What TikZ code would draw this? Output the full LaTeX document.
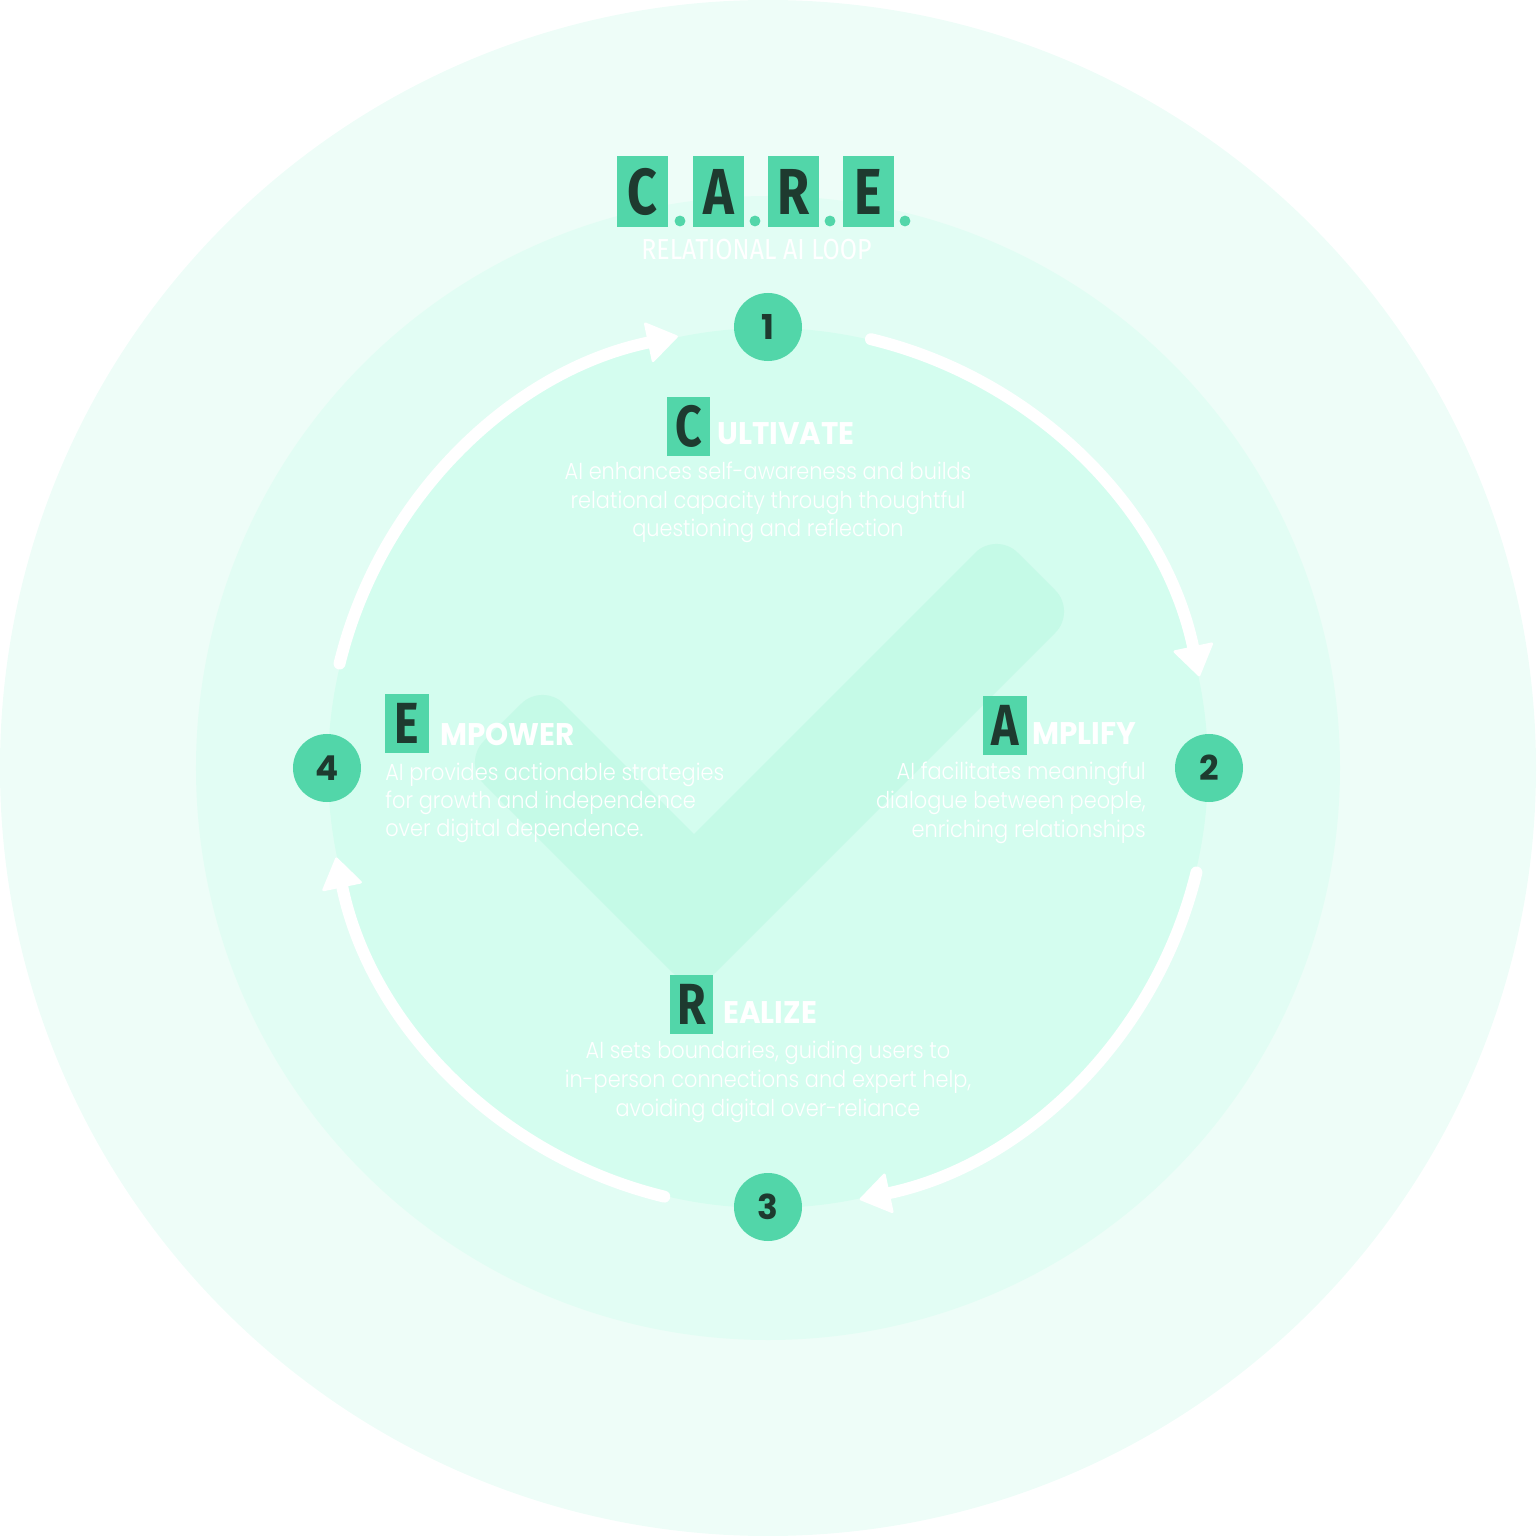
\documentclass[tikz,border=0pt]{standalone}
\usepackage{fontspec}
\usetikzlibrary{arrows.meta}
\setmainfont{Poppins}
\IfFontExistsTF{Poppins Light}{\newfontfamily\bodyfont{Poppins Light}[FakeStretch=0.9]}{\newfontfamily\bodyfont{Poppins}[FakeStretch=0.9]}
\newfontfamily\headfont{Poppins}[FakeStretch=0.94]
\newfontfamily\letterfont{Fira Sans}[FakeStretch=0.8]
\newfontfamily\subfont{Fira Sans}[FakeStretch=0.86]
\definecolor{outerc}{HTML}{EEFDF8}
\definecolor{midc}{HTML}{E2FDF4}
\definecolor{innerc}{HTML}{D4FDEF}
\definecolor{checkc}{HTML}{C5FAE7}
\definecolor{cgreen}{HTML}{52D6A9}
\definecolor{cdark}{HTML}{1E3A2F}
\tikzset{
  numc/.style={circle, fill=cgreen, inner sep=0pt, minimum size=38.7pt, text=cdark,
    font=\fontsize{19.5pt}{19.5pt}\selectfont\bfseries},
  tbox/.style={rectangle, fill=cgreen, inner sep=0pt, minimum width=29pt, minimum height=40.4pt,
    text=cdark, font=\letterfont\fontsize{37pt}{37pt}\selectfont\bfseries},
  hbox/.style={rectangle, fill=cgreen, inner sep=0pt, minimum width=24.5pt, minimum height=33.6pt,
    text=cdark, font=\letterfont\fontsize{33pt}{33pt}\selectfont\bfseries},
  dotc/.style={circle, fill=cgreen, inner sep=0pt, minimum size=6.2pt},
  hword/.style={anchor=base west, inner sep=0pt, text=white,
    font=\headfont\fontsize{17.8pt}{17.8pt}\selectfont\bfseries},
  bodyc/.style={inner sep=0pt, text=white, font=\bodyfont\fontsize{13.2pt}{16pt}\selectfont},
  flow/.style={draw=white, line width=6.8pt, line cap=round,
    -{Triangle[length=18pt,width=24pt,round,line width=1.5pt]}},
}
\begin{document}
\begin{tikzpicture}[x=0.2mm,y=0.2mm]
\useasboundingbox (-768,-768) rectangle (768,768);
\coordinate (ctr) at (0,0);
% background discs
\fill[outerc] (ctr) circle[radius=768];
\fill[midc] (ctr) circle[radius=572];
\fill[innerc] (ctr) circle[radius=440];
% big check mark
\fill[checkc] (-74,-66) [rounded corners=17pt] -- (228.5,236.5) -- (308.5,156.5) -- (-74,-226)
  -- (-305.5,5.5) -- (-225.5,85.5) [sharp corners] -- cycle;
% loop arrows
\draw[flow] ([shift={(76.5:441)}]ctr) arc[start angle=76.5, end angle=12, radius=441];
\draw[flow] ([shift={(-13.7:441)}]ctr) arc[start angle=-13.7, end angle=-78, radius=441];
\draw[flow] ([shift={(-103.6:441)}]ctr) arc[start angle=-103.6, end angle=-168.3, radius=441];
\draw[flow] ([shift={(166.3:441)}]ctr) arc[start angle=166.3, end angle=101.8, radius=441];
% step numbers
\node[numc] (n1) at (0,441) {1};
\node[numc] (n2) at (441,0) {2};
\node[numc] (n3) at (0,-439) {3};
\node[numc] (n4) at (-441,0) {4};
% title
\node[tbox] (tc) at (-125.5,576.5) {C};
\node[tbox] (ta) at (-49.5,576.5) {A};
\node[tbox] (tr) at (25.5,576.5) {R};
\node[tbox] (te) at (100.5,576.5) {E};
\node[dotc] (d1) at (-88,547) {};
\node[dotc] (d2) at (-13,547) {};
\node[dotc] (d3) at (62,547) {};
\node[dotc] (d4) at (137,547) {};
\node[anchor=base, inner sep=0pt, text=white, font=\subfont\fontsize{16.5pt}{16.5pt}\selectfont]
  (sub) at (-11.5,508) {RELATIONAL AI LOOP};
% Cultivate
\node[hbox] (hc) at (-79.5,341.5) {C};
\node[hword] (hcw) at (-51,323) {ULTIVATE};
\node[bodyc, anchor=base] (c1) at (0,288) {AI enhances self-awareness and builds};
\node[bodyc, anchor=base] (c2) at (0,259.5) {relational capacity through thoughtful};
\node[bodyc, anchor=base] (c3) at (0,231) {questioning and reflection};
% Amplify
\node[hbox] (ha) at (237,42.5) {A};
\node[hword] (haw) at (264,24) {MPLIFY};
\node[bodyc, anchor=base east] (a1) at (378,-11) {AI facilitates meaningful};
\node[bodyc, anchor=base east] (a2) at (378,-40) {dialogue between people,};
\node[bodyc, anchor=base east] (a3) at (378,-69) {enriching relationships};
% Empower
\node[hbox] (he) at (-361,44.5) {E};
\node[hword] (hew) at (-328,23) {MPOWER};
\node[bodyc, anchor=base west] (e1) at (-383,-12) {AI provides actionable strategies};
\node[bodyc, anchor=base west] (e2) at (-383,-40) {for growth and independence};
\node[bodyc, anchor=base west] (e3) at (-383,-68) {over digital dependence.};
% Realize
\node[hbox] (hr) at (-76.5,-236.5) {R};
\node[hword] (hrw) at (-45,-255) {EALIZE};
\node[bodyc, anchor=base] (r1) at (0,-290) {AI sets boundaries, guiding users to};
\node[bodyc, anchor=base] (r2) at (0,-319) {in-person connections and expert help,};
\node[bodyc, anchor=base] (r3) at (0,-348) {avoiding digital over-reliance};
\end{tikzpicture}
\end{document}
